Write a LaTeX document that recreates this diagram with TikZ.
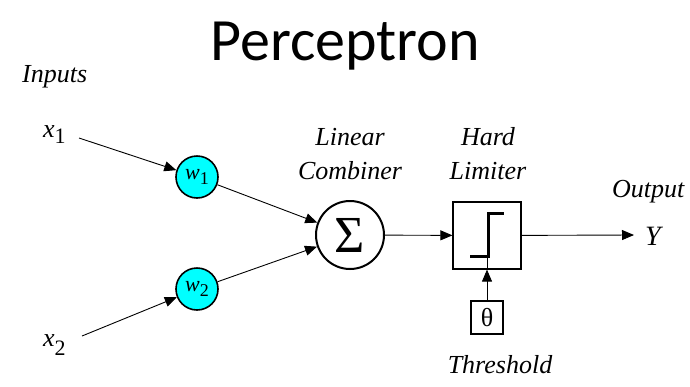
\documentclass[tikz,border=0pt]{standalone}
\usepackage{fontspec}
\newfontfamily\serif{Liberation Serif}
\newfontfamily\titlefont{Carlito}
\usetikzlibrary{arrows.meta}
\definecolor{wcyan}{RGB}{0,255,255}
\begin{document}
\begin{tikzpicture}[x=1pt,y=-1pt,
  lbl/.style={font=\serif\fontsize{26}{28}\selectfont\itshape, inner sep=0pt, anchor=base},
  var/.style={font=\serif\fontsize{26}{28}\selectfont, inner sep=0pt, anchor=base west},
  weight/.style={circle, draw, line width=1.6pt, fill=wcyan, minimum size=42pt, inner sep=0pt,
                 font=\serif\fontsize{22}{24}\selectfont},
  conn/.style={line width=0.9pt, -{Triangle[length=12pt,width=10pt]}},
  plain/.style={line width=0.9pt}]
\useasboundingbox (0,0) rectangle (690,386);

% title
\node[font=\titlefont\fontsize{60}{64}\selectfont, inner sep=0pt, anchor=base] (title) at (345,60) {Perceptron};

% labels
\node[lbl, anchor=base west] (inputs) at (22,82) {Inputs};
\node[lbl] (lin) at (350,145) {Linear};
\node[lbl] (comb) at (350,179) {Combiner};
\node[lbl] (hard) at (488,145) {Hard};
\node[lbl] (lim) at (488,179) {Limiter};
\node[lbl, anchor=base west] (outlbl) at (612,197) {Output};
\node[lbl] (thr) at (500,373) {Threshold};

% inputs
\node[var] (x1) at (43,137) {\textit{x}\raisebox{-6pt}{\fontsize{22}{24}\selectfont 1}};
\node[var] (x2) at (43,346) {\textit{x}\raisebox{-9pt}{\fontsize{22}{24}\selectfont 2}};
\coordinate (x1s) at (79,138);
\coordinate (x2s) at (82,336);

% weights
\node[weight] (w1) at (197,177) {\textit{w}\raisebox{-5pt}{\fontsize{18}{20}\selectfont 1}};
\node[weight] (w2) at (197,289) {\textit{w}\raisebox{-5pt}{\fontsize{18}{20}\selectfont 2}};

% summation
\node[circle, draw, line width=2pt, minimum size=68pt, inner sep=0pt,
      font=\serif\fontsize{52}{54}\selectfont] (sum) at (350,235) {\raisebox{-2pt}{Σ}};

% hard limiter
\node[draw, line width=1.2pt, minimum width=68pt, minimum height=67pt, inner sep=0pt] (lim box) at (487,235.5) {};
\draw[line width=3pt] (470,256) -- (488,256) -- (488,213) -- (504,213);

% threshold
\node[draw, line width=1.2pt, minimum width=32pt, minimum height=33pt, inner sep=0pt,
      font=\serif\fontsize{26}{28}\selectfont] (theta) at (487,317.5) {θ};

% output
\coordinate (yend) at (634,235);
\node[lbl, font=\serif\fontsize{28}{30}\selectfont\itshape, anchor=base west] (Y) at (645,245) {Y};

% connectors
\draw[conn] (x1s) -- (w1);
\draw[conn] (x2s) -- (w2);
\draw[conn] (w1) -- (sum);
\draw[conn] (w2) -- (sum);
\draw[conn] (sum) -- (lim box);
\draw[conn] (theta) -- (lim box);
\draw[plain, line width=0.6pt] (lim box.south) -- (487,256);
\draw[conn] (lim box) -- (yend);
\end{tikzpicture}
\end{document}
